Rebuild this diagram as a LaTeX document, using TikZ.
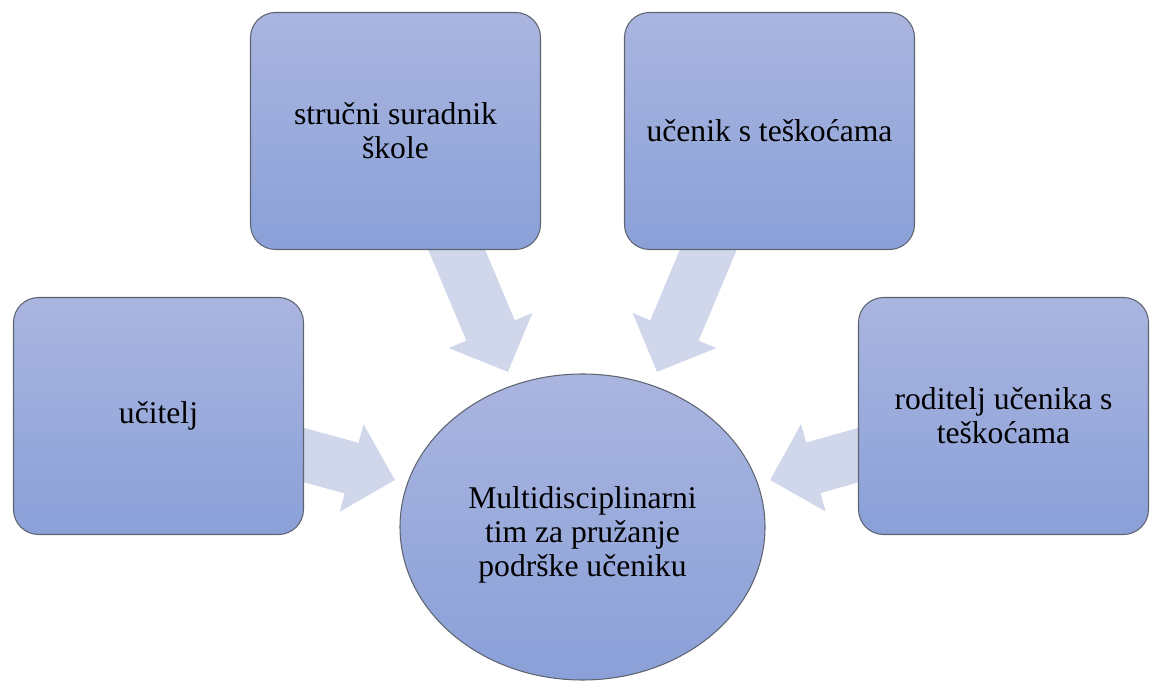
\documentclass[tikz,border=0pt]{standalone}
\usepackage{fontspec}
\setmainfont{Liberation Serif}
\usetikzlibrary{calc,arrows.meta,shapes.geometric,backgrounds}
\definecolor{boxtop}{HTML}{AAB5DF}
\definecolor{boxbot}{HTML}{8AA0D8}
\definecolor{boxline}{HTML}{5E6470}
\definecolor{arrowfill}{HTML}{D0D7EB}

\begin{document}
\begin{tikzpicture}[
  member/.style={draw=boxline,line width=0.6pt,rounded corners=0.5cm,top color=boxtop,bottom color=boxbot,
    minimum width=5.8cm,minimum height=4.74cm,align=center,font=\fontsize{18}{19.5}\selectfont},
  team/.style={ellipse,draw=boxline,line width=0.6pt,top color=boxtop,bottom color=boxbot,
    minimum width=7.3cm,minimum height=6.12cm,align=center,font=\fontsize{18}{19.5}\selectfont},
  feed/.style={draw=arrowfill,line width=1.05cm,-{Triangle[length=0.9cm,width=1.76cm]}}]
  \useasboundingbox (0,0) rectangle (23,13.62);
  % Members of the team
  \node[member] (suradnik) at (7.91,11.0) {stručni suradnik\\škole};
  \node[member] (ucenik) at (15.39,11.0) {učenik s teškoćama};
  \node[member] (ucitelj) at (3.17,5.3) {učitelj};
  \node[member] (roditelj) at (20.07,5.3) {roditelj učenika s\\teškoćama};
  % Team in the middle
  \node[team] (tim) at (11.65,3.08) {\\[2pt]Multidisciplinarni\\tim za pružanje\\podrške učeniku};
  % Block arrows into the team, kept behind the boxes
  \begin{scope}[on background layer]
    \draw[feed] ($(suradnik.south)+(1.1,0.3)$) -- ($(tim)+(-1.49,3.1)$);
    \draw[feed] ($(ucenik.south)+(-1.1,0.3)$) -- ($(tim)+(1.49,3.1)$);
    \draw[feed] ($(ucitelj.east)+(-0.3,-0.7)$) -- ($(tim)+(-3.75,0.94)$);
    \draw[feed] ($(roditelj.west)+(0.3,-0.7)$) -- ($(tim)+(3.75,0.94)$);
  \end{scope}
\end{tikzpicture}
\end{document}
